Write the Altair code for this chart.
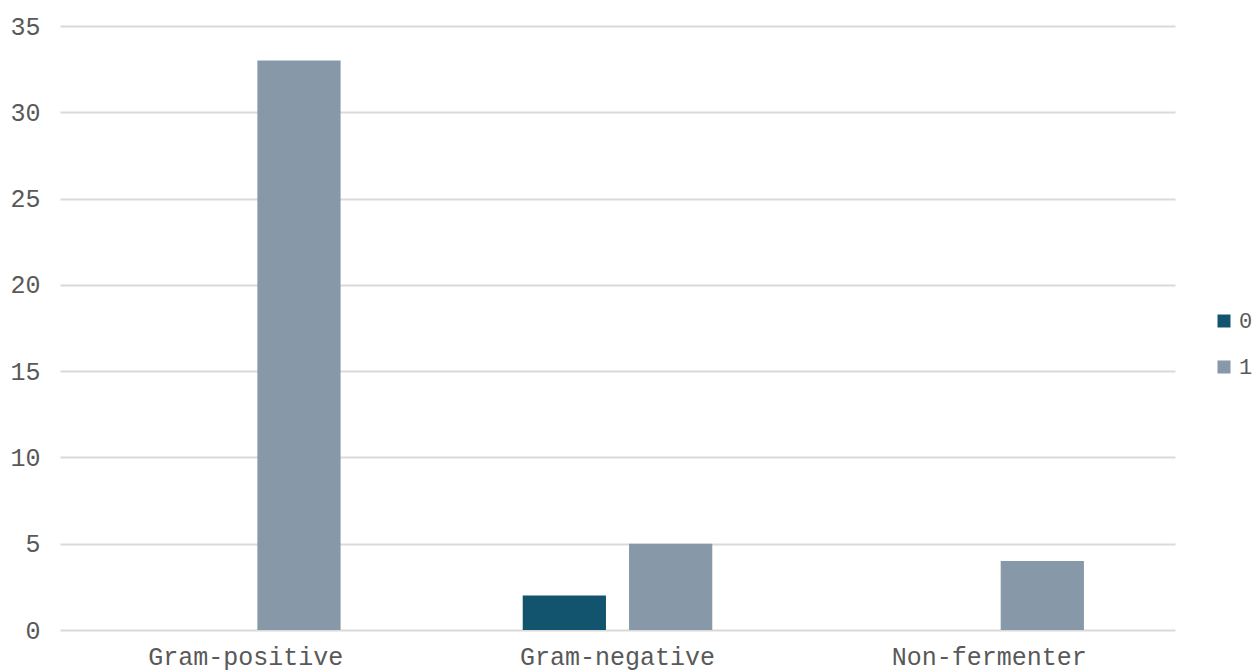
import altair as alt
import pandas as pd

categories = ["Gram-positive", "Gram-negative", "Non-fermenter"]
series = ["0", "1"]
values_0 = [0, 2, 0]
values_1 = [33, 5, 4]

rows = []
for c, v in zip(categories, values_0):
    rows.append({"category": c, "series": "0", "value": v})
for c, v in zip(categories, values_1):
    rows.append({"category": c, "series": "1", "value": v})
df = pd.DataFrame(rows)

FONT = "Liberation Mono"
TXT = "#595959"

chart = alt.Chart(df).mark_bar().encode(
    x=alt.X("category:N", sort=categories, title=None,
            scale=alt.Scale(paddingInner=0.49, paddingOuter=0.245),
            axis=alt.Axis(labelAngle=0, domain=False, ticks=False, labelPadding=14,
                          labelLimit=0,
                          labelFont=FONT, labelFontSize=25, labelColor=TXT, grid=False)),
    xOffset=alt.XOffset("series:N", sort=series,
                        scale=alt.Scale(paddingInner=0.217, paddingOuter=0)),
    y=alt.Y("value:Q", title=None,
            scale=alt.Scale(domain=[0, 35], nice=False),
            axis=alt.Axis(values=[0, 5, 10, 15, 20, 25, 30, 35], domain=False, ticks=False,
                          labelPadding=20, labelFont=FONT, labelFontSize=25, labelColor=TXT,
                          gridColor="#d9d9d9", gridWidth=2)),
    color=alt.Color("series:N", sort=series, title=None,
                    scale=alt.Scale(domain=series, range=["#12546e", "#8799a9"]),
                    legend=alt.Legend(orient="none", legendX=1153, legendY=284, padding=0,
                                      symbolType="square", symbolSize=169, symbolStrokeWidth=0,
                                      labelFont=FONT, labelFontSize=22, labelColor=TXT,
                                      rowPadding=24, labelOffset=4)),
).properties(
    width=1115, height=604,
    autosize=alt.AutoSizeParams(type="none"),
    padding={"left": 60, "top": 26, "right": 81, "bottom": 41},
    background="white",
).configure_view(stroke=None, strokeWidth=0)

chart.save("out.html", embed_options={"renderer": "svg", "actions": False})
